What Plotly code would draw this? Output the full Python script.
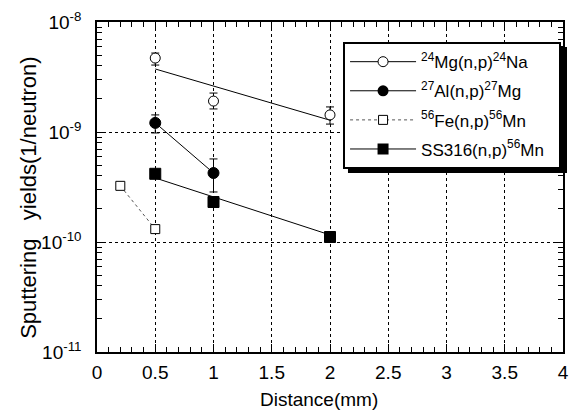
import plotly.graph_objects as go

# ---- data ----
mg_x = [0.5, 1.0, 2.0]
mg_y = [4.7e-9, 1.91e-9, 1.43e-9]
mg_err_up = [0.52e-9, 0.35e-9, 0.26e-9]
mg_err_dn = [0.64e-9, 0.29e-9, 0.25e-9]
mg_fit_x = [0.5, 2.0]
mg_fit_y = [3.74e-9, 1.28e-9]

al_x = [0.5, 1.0]
al_y = [1.21e-9, 4.24e-10]
al_err_up = [0.22e-9, 1.45e-10]
al_err_dn = [0.23e-9, 1.39e-10]

fe_x = [0.2, 0.5]
fe_y = [3.24e-10, 1.31e-10]
fe_err = [0.2e-10, 0.1e-10]

ss_x = [0.5, 1.0, 2.0]
ss_y = [4.17e-10, 2.31e-10, 1.11e-10]
ss_fit_x = [0.5, 2.0]
ss_fit_y = [3.82e-10, 1.16e-10]

legend_names = [
    "<sup>24</sup>Mg(n,p)<sup>24</sup>Na",
    "<sup>27</sup>Al(n,p)<sup>27</sup>Mg",
    "<sup>56</sup>Fe(n,p)<sup>56</sup>Mn",
    "SS316(n,p)<sup>56</sup>Mn",
]

x_ticks = [0, 0.5, 1, 1.5, 2, 2.5, 3, 3.5, 4]
x_ticktext = ["0", "0.5", "1", "1.5", "2", "2.5", "3", "3.5", "4"]
y_ticks = [1e-11, 1e-10, 1e-9, 1e-8]
y_ticktext = ["10<sup>-11</sup>", "10<sup>-10</sup>", "10<sup>-9</sup>", "10<sup>-8</sup>"]
y_minor = [m * 10.0 ** e for e in (-11, -10, -9) for m in range(2, 10)]

x_title = "Distance(mm)"
y_title = "Sputtering\u00a0\u00a0 yields(1/neutron)"

FONT = "Liberation Sans"
NB = "\u00a0\u00a0"
fig = go.Figure()

# fit / connecting lines
fig.add_trace(go.Scatter(x=mg_fit_x, y=mg_fit_y, mode="lines",
                         line=dict(color="black", width=1), showlegend=False))
fig.add_trace(go.Scatter(x=ss_fit_x, y=ss_fit_y, mode="lines",
                         line=dict(color="black", width=1), showlegend=False))
fig.add_trace(go.Scatter(x=al_x, y=al_y, mode="lines",
                         line=dict(color="black", width=1), showlegend=False))
fig.add_trace(go.Scatter(x=fe_x, y=fe_y, mode="lines",
                         line=dict(color="#555", width=1, dash="dot"), showlegend=False))

# markers
fig.add_trace(go.Scatter(
    x=mg_x, y=mg_y, mode="markers", showlegend=False,
    marker=dict(symbol="circle", size=10, color="white", line=dict(color="black", width=1)),
    error_y=dict(type="data", array=mg_err_up, arrayminus=mg_err_dn, color="black", thickness=1, width=4)))
fig.add_trace(go.Scatter(
    x=al_x, y=al_y, mode="markers", showlegend=False,
    marker=dict(symbol="circle", size=11, color="black", line=dict(color="black", width=1)),
    error_y=dict(type="data", array=al_err_up, arrayminus=al_err_dn, color="black", thickness=1, width=4)))
fig.add_trace(go.Scatter(
    x=fe_x, y=fe_y, mode="markers", showlegend=False,
    marker=dict(symbol="square", size=9, color="white", line=dict(color="black", width=1)),
    error_y=dict(type="data", array=fe_err, color="black", thickness=1, width=3)))
fig.add_trace(go.Scatter(
    x=ss_x, y=ss_y, mode="markers", showlegend=False,
    marker=dict(symbol="square", size=11, color="black", line=dict(color="black", width=1))))

# legend entries
styles = [
    dict(line=dict(color="black", width=1),
         marker=dict(symbol="circle", size=10, color="white", line=dict(color="black", width=1))),
    dict(line=dict(color="black", width=1),
         marker=dict(symbol="circle", size=11, color="black")),
    dict(line=dict(color="#555", width=1, dash="dot"),
         marker=dict(symbol="square", size=9, color="white", line=dict(color="black", width=1))),
    dict(line=dict(color="black", width=1),
         marker=dict(symbol="square", size=11, color="black")),
]
for i, (name, st) in enumerate(zip(legend_names, styles)):
    fig.add_trace(go.Scatter(x=[None], y=[None], mode="lines+markers", name=name + NB,
                             legendgroup=f"g{i}", **st))

# legend shadow (drawn beneath the legend box, offset down-right)
fig.add_shape(type="rect", xref="paper", yref="paper",
              x0=0.5386, x1=1.0086, y0=0.5424, y1=0.924,
              fillcolor="black", line=dict(width=0), layer="above")

# axis titles as annotations for exact placement
fig.add_annotation(text=y_title, textangle=-90, xref="paper", yref="paper",
                   x=-0.146, y=0.47, xanchor="center", yanchor="middle",
                   showarrow=False, font=dict(family=FONT, size=22, color="black"))
fig.add_annotation(text=x_title, xref="paper", yref="paper",
                   x=0.476, y=-0.145, xanchor="center", yanchor="middle",
                   showarrow=False, font=dict(family=FONT, size=19, color="black"))

fig.update_layout(
    width=571, height=406,
    margin=dict(l=89, r=16, t=14, b=62),
    paper_bgcolor="white", plot_bgcolor="white",
    font=dict(family=FONT, color="black", size=16),
    showlegend=True,
    legend=dict(x=0.528, y=0.939, xanchor="left", yanchor="top",
                bgcolor="white", bordercolor="black", borderwidth=2,
                font=dict(family=FONT, size=17, color="black"),
                tracegroupgap=4, itemwidth=66),
    xaxis=dict(
        range=[0, 4], tickmode="array", tickvals=x_ticks, ticktext=x_ticktext,
        ticks="inside", ticklen=8, tickcolor="black", tickwidth=1,
        showline=True, linecolor="black", linewidth=1.5, mirror="allticks",
        showgrid=True, gridcolor="black", griddash="dot", gridwidth=1,
        zeroline=False, automargin=False, ticklabelstandoff=2,
        minor=dict(dtick=0.1, tick0=0, ticks="inside", ticklen=5, tickcolor="black", showgrid=False),
        tickfont=dict(size=19),
    ),
    yaxis=dict(
        type="log", range=[-11, -8], tickmode="array", tickvals=y_ticks, ticktext=y_ticktext,
        ticks="inside", ticklen=8, tickcolor="black", tickwidth=1,
        showline=True, linecolor="black", linewidth=1.5, mirror="allticks",
        showgrid=True, gridcolor="black", griddash="dot", gridwidth=1,
        zeroline=False, automargin=False, ticklabelstandoff=10,
        minor=dict(tickmode="array", tickvals=y_minor, ticks="inside", ticklen=5, tickcolor="black", showgrid=False),
        tickfont=dict(size=19),
    ),
)

fig.write_html("out.html")
